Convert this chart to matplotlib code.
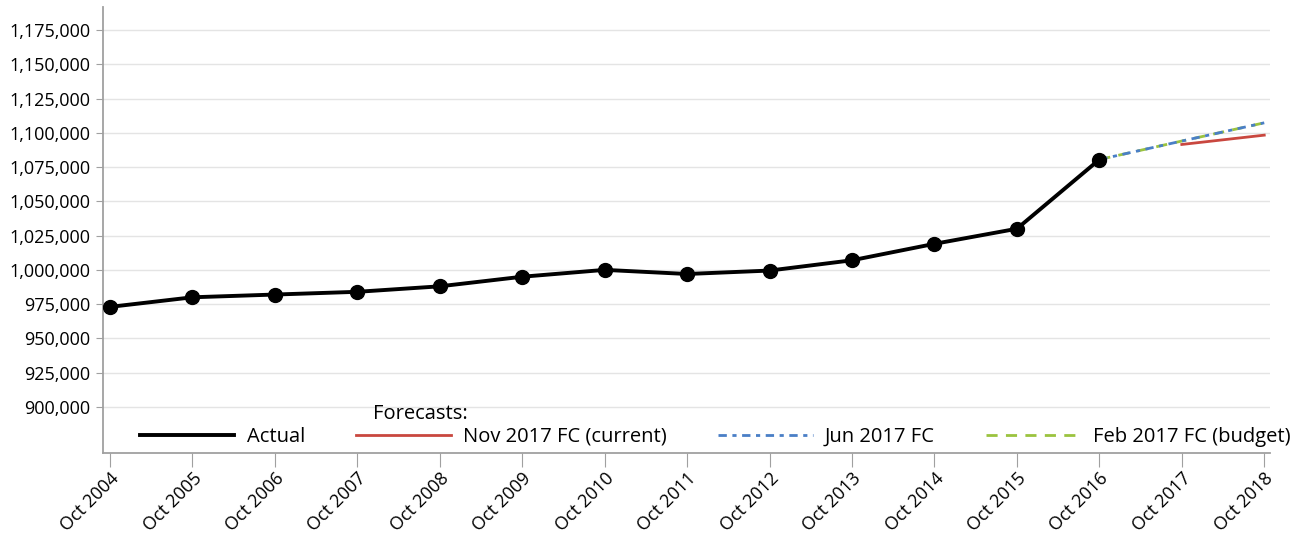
import matplotlib.pyplot as plt
from matplotlib.ticker import FuncFormatter

plt.rcParams['font.family'] = ['Open Sans', 'DejaVu Sans']

# Year labels for the x axis
years = ["Oct 2004", "Oct 2005", "Oct 2006", "Oct 2007", "Oct 2008", "Oct 2009",
         "Oct 2010", "Oct 2011", "Oct 2012", "Oct 2013", "Oct 2014", "Oct 2015",
         "Oct 2016", "Oct 2017", "Oct 2018"]

# Actual values, Oct 2004 - Oct 2016
actual = [973000, 980000, 982000, 984000, 988000, 995000, 1000000,
          997000, 999500, 1007000, 1019000, 1030000, 1080500]

# Forecasts
nov_fc_x = [13, 14]
nov_fc = [1091500, 1098300]
jun_fc_x = [12, 13, 14]
jun_fc = [1080500, 1094000, 1107300]
feb_fc_x = [12, 13, 14]
feb_fc = [1080500, 1094000, 1107300]

fig = plt.figure(figsize=(13.12, 5.39), dpi=100)
ax = fig.add_axes([0.0785, 0.1596, 0.8895, 0.8274])

ax.plot(range(len(actual)), actual, color="black", lw=2.8, marker="o",
        markersize=10, label="Actual", zorder=5)
ax.plot(nov_fc_x, nov_fc, color="#c9473f", lw=2, label="Nov 2017 FC (current)", zorder=3)
ax.plot(feb_fc_x, feb_fc, color="#9bc33f", lw=2, dashes=(4, 3),
        label="Feb 2017 FC (budget)", zorder=3)
ax.plot(jun_fc_x, jun_fc, color="#4a7fc6", lw=2, dashes=(3, 2, 1.5, 2),
        label="Jun 2017 FC", zorder=4)

ax.set_xlim(-0.085, 14.07)
ax.set_ylim(866400, 1191800)
ax.set_yticks(range(900000, 1175001, 25000))
ax.yaxis.set_major_formatter(FuncFormatter(lambda v, p: f"{v:,.0f}"))
ax.set_xticks(range(len(years)))
ax.set_xticklabels(years, rotation=45, ha="right", rotation_mode="anchor")

ax.grid(axis="y", color="#e4e4e4", lw=1)
ax.set_axisbelow(True)
for s in ["top", "right"]:
    ax.spines[s].set_visible(False)
for s in ["left", "bottom"]:
    ax.spines[s].set_color("#a0a0a0")
    ax.spines[s].set_linewidth(1.3)
ax.tick_params(axis="y", length=5, color="#a0a0a0", labelsize=13, pad=4)
ax.tick_params(axis="x", length=10, color="#a0a0a0", labelsize=13, pad=2)

handles, labels = ax.get_legend_handles_labels()
order = [0, 1, 3, 2]
leg = ax.legend([handles[i] for i in order], [labels[i] for i in order],
                loc="lower left", bbox_to_anchor=(0.016, -0.027), ncol=4,
                frameon=False, fontsize=14.5, handlelength=4.7,
                columnspacing=2.55, handletextpad=0.6)
leg.legend_handles[0].set_marker("")
ax.text(0.231, 0.066, "Forecasts:", transform=ax.transAxes, fontsize=14.5,
        ha="left", va="bottom")

fig.savefig("out.png", dpi=100)
